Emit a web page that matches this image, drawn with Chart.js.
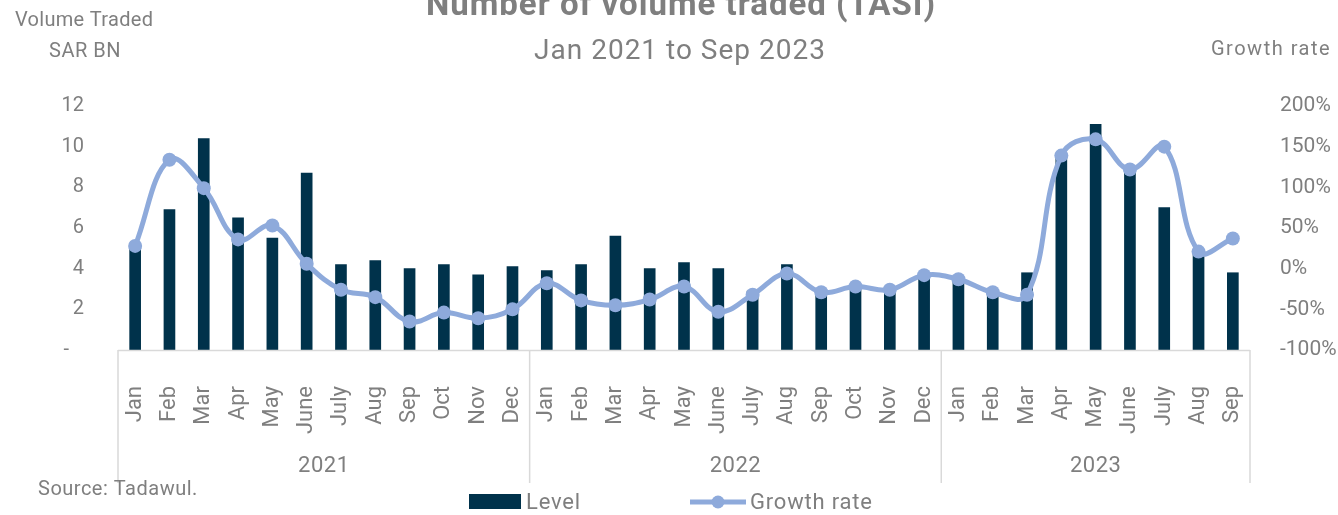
<!DOCTYPE html>
<html>
<head>
<meta charset="utf-8">
<script src="https://cdn.jsdelivr.net/npm/chart.js@4.4.1/dist/chart.umd.min.js"></script>
<style>
  html, body { margin: 0; padding: 0; background: #fff; }
  #wrap { position: relative; width: 1338px; height: 515px; }
</style>
</head>
<body>
<div id="wrap"><canvas id="chart" width="1338" height="515"></canvas></div>
<script>
// months per year group (category axis)
const years = ['2021', '2022', '2023'];
const months2021 = ['Jan','Feb','Mar','Apr','May','June','July','Aug','Sep','Oct','Nov','Dec'];
const months2022 = ['Jan','Feb','Mar','Apr','May','June','July','Aug','Sep','Oct','Nov','Dec'];
const months2023 = ['Jan','Feb','Mar','Apr','May','June','July','Aug','Sep'];

// Level, SAR BN
const level2021 = [5.1, 6.9, 10.4, 6.5, 5.5, 8.7, 4.2, 4.4, 4.0, 4.2, 3.7, 4.1];
const level2022 = [3.9, 4.2, 5.6, 4.0, 4.3, 4.0, 2.9, 4.2, 2.8, 3.1, 3.0, 3.8];
const level2023 = [3.5, 2.9, 3.8, 9.5, 11.1, 8.9, 7.0, 4.8, 3.8];

// Growth rate, %
const growth2021 = [28, 134, 99, 36, 53, 6, -26, -35, -65, -54, -61, -50];
const growth2022 = [-18, -39, -45, -38, -22, -53, -32, -6, -29, -22, -26, -8];
const growth2023 = [-13, -29, -32, 139, 159, 122, 150, 21, 37];

const leftTicks = [0, 2, 4, 6, 8, 10, 12];
const rightTicks = [-100, -50, 0, 50, 100, 150, 200];

const labels = [...months2021, ...months2022, ...months2023];
const groupSizes = [months2021.length, months2022.length, months2023.length];

const gray = '#7f7f7f';
const navy = '#00324b';
const lightBlue = '#8eaadb';
const font = 'Roboto, "DejaVu Sans", sans-serif';

const PLOT_LEFT = 118, PLOT_RIGHT = 1250, PLOT_TOP = 106, PLOT_BOTTOM = 350;

function text(ctx, str, x, y, size, spacing, weight) {
    ctx.font = (weight || '') + ' ' + size + 'px ' + font;
    ctx.letterSpacing = (spacing || 0) + 'px';
    ctx.fillText(str, x, y);
}

// draws titles, year groups, separators and legend
const decorPlugin = {
    id: 'decor',
    afterDraw(chart) {
        const ctx = chart.ctx;
        const x = chart.scales.x;
        const area = chart.chartArea;
        const step = x.getPixelForValue(1) - x.getPixelForValue(0);
        ctx.save();

        // axis line + group separators
        ctx.strokeStyle = '#d9d9d9';
        ctx.lineWidth = 1.5;
        ctx.beginPath();
        ctx.moveTo(area.left, area.bottom + 0.5);
        ctx.lineTo(area.right, area.bottom + 0.5);
        let idx = 0;
        const bounds = [area.left];
        groupSizes.forEach(n => {
            idx += n;
            bounds.push(x.getPixelForValue(idx - 1) + step / 2);
        });
        bounds.forEach(b => {
            ctx.moveTo(b, area.bottom);
            ctx.lineTo(b, 483);
        });
        ctx.stroke();

        ctx.fillStyle = gray;
        ctx.textAlign = 'center';
        ctx.textBaseline = 'middle';
        years.forEach((y, i) => {
            text(ctx, y, (bounds[i] + bounds[i + 1]) / 2, 466, 22, 0.5);
        });

        // titles
        ctx.textBaseline = 'alphabetic';
        text(ctx, 'Number of volume traded (TASI)', 681, 15, 33, 1, 'bold');
        ctx.textBaseline = 'middle';
        text(ctx, 'Jan 2021 to Sep 2023', 680, 52, 28, 1);

        ctx.textAlign = 'left';
        text(ctx, 'Volume Traded', 15, 21, 20, 0.3);
        text(ctx, 'SAR BN', 49, 52, 20, 0.5);
        text(ctx, 'Growth rate', 1211, 50, 20, 1.5);
        text(ctx, 'Source: Tadawul.', 38, 490, 20, 0.5);

        // legend
        ctx.fillStyle = navy;
        ctx.fillRect(469, 494, 52, 15);
        ctx.fillStyle = gray;
        text(ctx, 'Level', 526, 503, 22, 0.8);
        ctx.strokeStyle = lightBlue;
        ctx.lineWidth = 5;
        ctx.beginPath();
        ctx.moveTo(690, 502);
        ctx.lineTo(746, 502);
        ctx.stroke();
        ctx.fillStyle = lightBlue;
        ctx.beginPath();
        ctx.arc(718, 502, 6.5, 0, Math.PI * 2);
        ctx.fill();
        ctx.fillStyle = gray;
        text(ctx, 'Growth rate', 750, 503, 22, 0.8);

        ctx.restore();
    }
};

new Chart(document.getElementById('chart'), {
    data: {
        labels: labels,
        datasets: [
            {
                type: 'line',
                label: 'Growth rate',
                data: [...growth2021, ...growth2022, ...growth2023],
                yAxisID: 'y1',
                borderColor: lightBlue,
                backgroundColor: lightBlue,
                borderWidth: 5,
                pointRadius: 7,
                pointHoverRadius: 7,
                pointBorderWidth: 0,
                tension: 0.4,
                order: 1
            },
            {
                type: 'bar',
                label: 'Level',
                data: [...level2021, ...level2022, ...level2023],
                yAxisID: 'y',
                backgroundColor: navy,
                barThickness: 11,
                order: 2
            }
        ]
    },
    options: {
        responsive: false,
        animation: false,
        layout: { padding: { top: PLOT_TOP, left: 0, right: 0, bottom: 0 } },
        plugins: {
            legend: { display: false },
            tooltip: { enabled: false }
        },
        scales: {
            x: {
                grid: { display: false, drawTicks: false },
                border: { display: false },
                ticks: {
                    color: gray,
                    font: { family: font, size: 22 },
                    minRotation: 90,
                    maxRotation: 90,
                    autoSkip: false,
                    padding: 36
                },
                afterFit(scale) { scale.height = 515 - PLOT_BOTTOM; }
            },
            y: {
                position: 'left',
                min: 0,
                max: 12,
                grid: { display: false, drawTicks: false },
                border: { display: false },
                afterBuildTicks(scale) { scale.ticks = leftTicks.map(v => ({ value: v })); },
                ticks: {
                    color: gray,
                    font: { family: font, size: 20 },
                    padding: 34,
                    callback: v => v === 0 ? '-   ' : v
                },
                afterFit(scale) { scale.width = PLOT_LEFT; }
            },
            y1: {
                position: 'right',
                min: -100,
                max: 200,
                grid: { display: false, drawTicks: false },
                border: { display: false },
                afterBuildTicks(scale) { scale.ticks = rightTicks.map(v => ({ value: v })); },
                ticks: {
                    color: gray,
                    font: { family: font, size: 21 },
                    padding: 30,
                    callback: v => v + '%'
                },
                afterFit(scale) { scale.width = 1338 - PLOT_RIGHT; }
            }
        }
    },
    plugins: [decorPlugin]
});
</script>
</body>
</html>
